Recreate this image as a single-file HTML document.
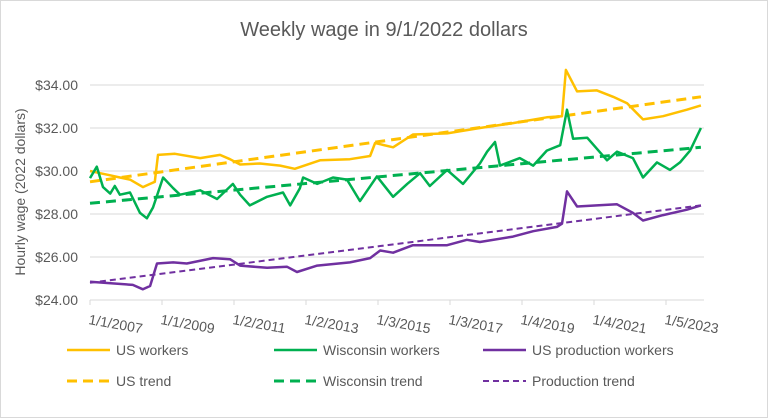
<!DOCTYPE html>
<html><head><meta charset="utf-8"><style>
body{margin:0;background:#fff;font-family:"Liberation Sans",sans-serif;}
svg{display:block}
</style></head><body>
<svg id="chart" width="768" height="418" xmlns="http://www.w3.org/2000/svg">
<rect x="0.5" y="0.5" width="767" height="417" fill="#fff" stroke="#d9d9d9"/>
<text x="384" y="36" text-anchor="middle" font-size="20" fill="#595959">Weekly wage in 9/1/2022 dollars</text>
<text transform="translate(25,192) rotate(-90)" text-anchor="middle" font-size="14" fill="#595959">Hourly wage (2022 dollars)</text>
<g id="grid"></g><g id="series"></g><g id="xlabels"></g>
<g id="legend" font-size="14" fill="#595959"></g>
</svg>
<script>
const yTicks=[24,26,28,30,32,34];
const xTickYears=[2007,2009,2011,2013,2015,2017,2019,2021,2023];
const xTickLabels=["1/1/2007","1/1/2009","1/2/2011","1/2/2013","1/3/2015","1/3/2017","1/4/2019","1/4/2021","1/5/2023"];
const usYears=[2007.0,2007.28,2007.56,2007.83,2008.11,2008.47,2008.67,2008.8,2008.89,2009.36,2010.06,2010.61,2010.89,2011.17,2011.72,2012.28,2012.69,2013.39,2014.22,2014.78,2014.92,2015.42,2015.97,2016.92,2017.83,2018.75,2019.69,2020.11,2020.22,2020.53,2021.08,2021.53,2021.92,2022.36,2022.92,2023.58,2023.97];
const usVals=[30.0,29.9,29.8,29.7,29.6,29.25,29.4,29.5,30.75,30.8,30.6,30.75,30.55,30.3,30.35,30.25,30.1,30.5,30.55,30.7,31.3,31.1,31.7,31.75,32.0,32.23,32.5,32.55,34.7,33.7,33.75,33.45,33.15,32.4,32.55,32.85,33.05];
const wiYears=[2007,2007.19,2007.36,2007.56,2007.69,2007.83,2008.11,2008.39,2008.58,2008.75,2009.03,2009.31,2009.5,2010.06,2010.53,2010.97,2011.17,2011.44,2011.92,2012.36,2012.56,2012.83,2012.92,2013.31,2013.75,2014.14,2014.5,2014.97,2015.42,2015.81,2016.17,2016.44,2016.92,2017.36,2017.83,2018.03,2018.25,2018.39,2018.94,2019.31,2019.69,2020.06,2020.25,2020.42,2020.81,2021.36,2021.64,2022.08,2022.36,2022.75,2023.11,2023.39,2023.67,2023.97];
const wiVals=[29.67,30.2,29.25,28.95,29.3,28.9,29.0,28.05,27.8,28.3,29.7,29.2,28.9,29.1,28.7,29.4,28.9,28.4,28.8,29.0,28.4,29.2,29.7,29.4,29.7,29.6,28.6,29.75,28.8,29.4,29.9,29.3,30.05,29.4,30.35,30.9,31.35,30.25,30.6,30.25,30.95,31.2,32.85,31.5,31.55,30.5,30.9,30.6,29.7,30.4,30.05,30.4,30.95,32.0];
const prYears=[2007,2008.19,2008.47,2008.67,2008.86,2009.31,2009.69,2010.42,2010.89,2011.17,2011.92,2012.47,2012.75,2013.31,2014.22,2014.78,2015.06,2015.42,2015.97,2016.92,2017.47,2017.83,2018.75,2019.31,2019.97,2020.11,2020.25,2020.53,2021.08,2021.64,2022.08,2022.36,2022.92,2023.58,2023.97];
const prVals=[24.85,24.7,24.5,24.65,25.7,25.75,25.7,25.95,25.9,25.6,25.5,25.55,25.3,25.6,25.75,25.95,26.3,26.2,26.55,26.55,26.8,26.7,26.95,27.2,27.4,27.55,29.05,28.35,28.4,28.45,28.05,27.7,27.95,28.2,28.4];
const trendYears=[2007,2023.97];
const usTrend=[29.5,33.45];
const wiTrend=[28.5,31.1];
const prTrend=[24.8,28.4];

const NS="http://www.w3.org/2000/svg";
const X0=90,X1=704;
function xs(yr){return X0+(yr-2007)*36;}
function ys(v){return 300-(v-24)*21.5;}
function mk(t,attrs,parent){const e=document.createElementNS(NS,t);for(const k in attrs)e.setAttribute(k,attrs[k]);parent.appendChild(e);return e;}
const grid=document.getElementById('grid');
yTicks.forEach(v=>{
  const l=mk('line',{x1:X0,x2:X1,y1:ys(v),y2:ys(v),stroke:'#d9d9d9','stroke-width':1},grid);
  
  
  const t=mk('text',{x:78,y:ys(v)+5,'text-anchor':'end','font-size':14,fill:'#595959'},grid);
  t.textContent='$'+v.toFixed(2);
  
  
});
const xl=document.getElementById('xlabels');
xTickYears.forEach((yr,i)=>{
  const tk=mk('line',{x1:xs(yr),x2:xs(yr),y1:300,y2:305,stroke:'#d9d9d9'},xl);
  
  
  const t=mk('text',{transform:`translate(${xs(yr)-2},${324}) rotate(10)`,'font-size':14,fill:'#595959'},xl);
  t.textContent=xTickLabels[i];
  
  
});
const ser=document.getElementById('series');
function path(xsArr,vals,color,w,dash,name){
  const d=xsArr.map((yr,i)=>(i?'L':'M')+xs(yr).toFixed(1)+','+ys(vals[i]).toFixed(1)).join(' ');
  const p=mk('path',{d:d,fill:'none',stroke:color,'stroke-width':w,'stroke-linejoin':'round'},ser);
  if(dash)p.setAttribute('stroke-dasharray',dash);
  
  
}
path(trendYears,usTrend,'#FFC000',3,'10,6','us-trend-line');
path(trendYears,wiTrend,'#00B050',3,'10,6','wisconsin-trend-line');
path(trendYears,prTrend,'#7030A0',2,'6,4','production-trend-line');
path(usYears,usVals,'#FFC000',2.5,null,'us-workers-line');
path(wiYears,wiVals,'#00B050',2.5,null,'wisconsin-workers-line');
path(prYears,prVals,'#7030A0',2.5,null,'us-production-line');
const lg=document.getElementById('legend');
const items=[["US workers",'#FFC000',2.5,null,67,350],["Wisconsin workers",'#00B050',2.5,null,274,350],["US production workers",'#7030A0',2.5,null,483,350],
["US trend",'#FFC000',3,'10,6',67,381],["Wisconsin trend",'#00B050',3,'10,6',274,381],["Production trend",'#7030A0',2,'6,4',483,381]];
items.forEach(it=>{
  const g=mk('g',{},lg);
  
  
  const l=mk('line',{x1:it[4],x2:it[4]+43,y1:it[5],y2:it[5],stroke:it[1],'stroke-width':it[2]},g);
  if(it[3])l.setAttribute('stroke-dasharray',it[3]);
  const t=mk('text',{x:it[4]+49,y:it[5]+5},g);
  t.textContent=it[0];
});
</script>
</body></html>
